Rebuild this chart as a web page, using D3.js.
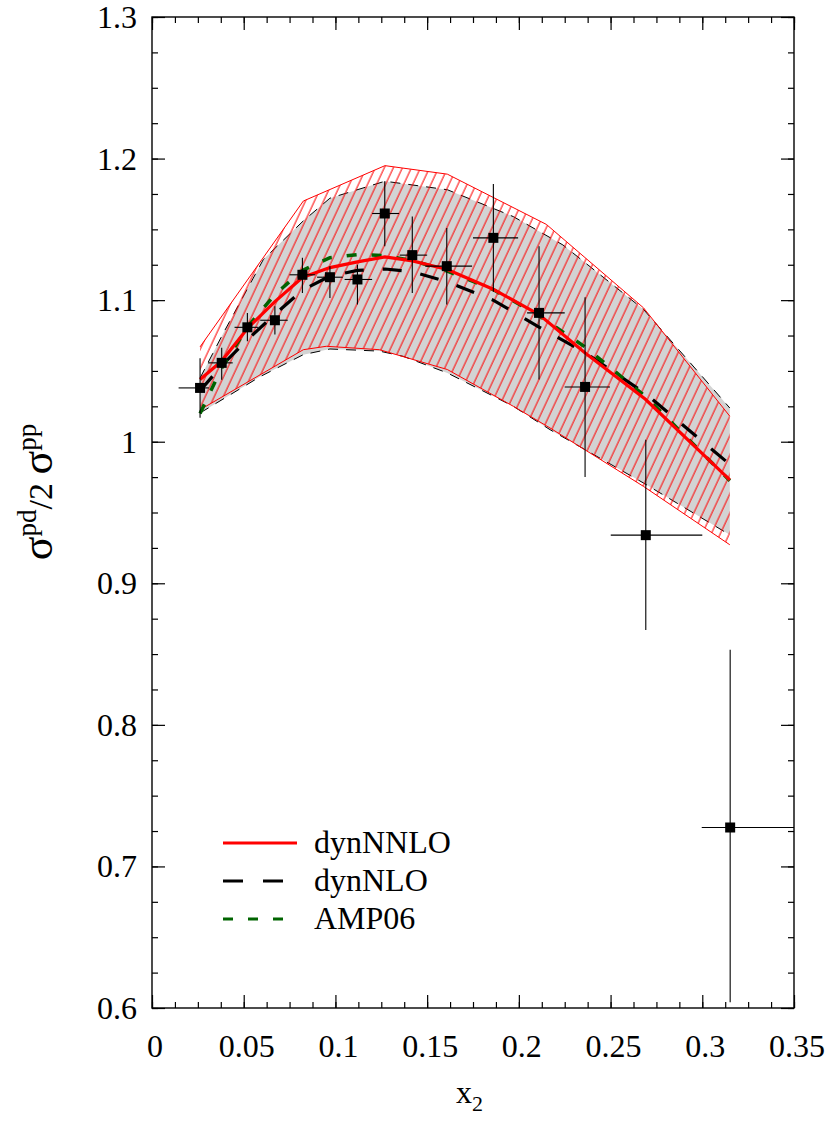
<!DOCTYPE html>
<html><head><meta charset="utf-8">
<script src="https://cdn.jsdelivr.net/npm/d3@7"></script>
<style>body{margin:0;background:#fff} text{font-family:"Liberation Serif","Times New Roman",serif;fill:#000}</style>
</head><body><svg id="c" width="830" height="1128"></svg>
<script>
const xTicks=[0,0.05,0.1,0.15,0.2,0.25,0.3,0.35];
const xTickLabels=["0","0.05","0.1","0.15","0.2","0.25","0.3","0.35"];
const yTicks=[0.6,0.7,0.8,0.9,1.0,1.1,1.2,1.3];
const yTickLabels=["0.6","0.7","0.8","0.9","1","1.1","1.2","1.3"];

// data points
const dataX =[0.0262,0.0380,0.0520,0.0670,0.0820,0.0970,0.1120,0.1269,0.1419,0.1607,0.1861,0.2110,0.2361,0.2692,0.3152];
const dataY =[1.038,1.0557,1.0808,1.0858,1.1179,1.1162,1.1146,1.1612,1.1318,1.124,1.144,1.091,1.0387,0.934,0.7275];
const dataXLo=[0.0145,0.0305,0.045,0.059,0.075,0.090,0.105,0.120,0.135,0.149,0.175,0.2045,0.225,0.2501,0.2997];
const dataXHi=[0.031,0.044,0.058,0.074,0.089,0.104,0.120,0.1347,0.150,0.1745,0.1996,0.225,0.2497,0.300,0.37];
const dataYLo=[1.017,1.0438,1.071,1.0757,1.105,1.1016,1.097,1.138,1.105,1.097,1.106,1.044,0.975,0.867,0.604];
const dataYHi=[1.059,1.0663,1.091,1.0957,1.130,1.124,1.125,1.184,1.159,1.151,1.182,1.138,1.102,1.0014,0.853];

// theory curves
const thX  =[0.0262,0.038,0.052,0.067,0.082,0.097,0.112,0.127,0.142,0.161,0.186,0.211,0.236,0.269,0.315];
const nnlo =[1.044,1.057,1.080,1.099,1.116,1.123,1.127,1.1306,1.1277,1.1216,1.1077,1.0898,1.0628,1.030,0.973];
const nlo  =[1.036,1.0537,1.072,1.090,1.107,1.117,1.121,1.122,1.120,1.113,1.100,1.081,1.063,1.034,0.984];
const amp06=[1.020,1.052,1.081,1.104,1.121,1.130,1.1322,1.1315,1.128,1.1205,1.1075,1.089,1.067,1.032,0.9725];

// uncertainty bands
const nnloBandUpX=[0.0262,0.0825,0.127,0.161,0.215,0.268,0.315];
const nnloBandUp =[1.067,1.170,1.195,1.189,1.1535,1.0945,1.018];
const nnloBandLoX=[0.0262,0.0825,0.095,0.124,0.161,0.197,0.217,0.268,0.315];
const nnloBandLo =[1.0226,1.065,1.0674,1.065,1.051,1.025,1.0097,0.9684,0.9272];
const nloBandUpX=[0.0262,0.039,0.0607,0.0825,0.097,0.127,0.161,0.197,0.224,0.268,0.315];
const nloBandUp =[1.045,1.077,1.1287,1.156,1.172,1.184,1.178,1.159,1.139,1.0934,1.0238];
const nloBandLoX=[0.0262,0.059,0.0825,0.097,0.124,0.137,0.161,0.197,0.217,0.268,0.315];
const nloBandLo =[1.0203,1.046,1.0615,1.0655,1.064,1.0603,1.0486,1.025,1.0085,0.9708,0.9342];

const legendLabels=["dynNNLO","dynNLO","AMP06"];

const L=152,R=794,T=17,B=1008;
const x=d3.scaleLinear().domain([0,0.35]).range([L,R]);
const y=d3.scaleLinear().domain([0.6,1.3]).range([B,T]);
const svg=d3.select("#c");
svg.append("rect").attr("width",830).attr("height",1128).attr("fill","#fff");
const defs=svg.append("defs");
defs.append("clipPath").attr("id","clip").append("rect").attr("x",L).attr("y",T).attr("width",R-L).attr("height",B-T);
const pat=defs.append("pattern").attr("id","hatch").attr("patternUnits","userSpaceOnUse")
  .attr("width",8.2).attr("height",20).attr("patternTransform","rotate(25)");
pat.append("line").attr("x1",1).attr("y1",0).attr("x2",1).attr("y2",20).attr("stroke","#ff0000").attr("stroke-width",1);

const g=svg.append("g").attr("clip-path","url(#clip)");
const zip=(xs,ys)=>xs.map((v,i)=>[v,ys[i]]);
const line=d3.line().x(d=>x(d[0])).y(d=>y(d[1]));

// gray NLO band
const nloPoly=zip(nloBandUpX,nloBandUp).concat(zip(nloBandLoX,nloBandLo).reverse());
g.append("path").attr("d",line(nloPoly)+"Z").attr("fill","#d3d3d3").attr("stroke","none");
[zip(nloBandUpX,nloBandUp),zip(nloBandLoX,nloBandLo)].forEach(p=>
  g.append("path").attr("d",line(p)).attr("fill","none").attr("stroke","#000").attr("stroke-width",1).attr("stroke-dasharray","10,8"));
// red hatched NNLO band
const nnloPoly=zip(nnloBandUpX,nnloBandUp).concat(zip(nnloBandLoX,nnloBandLo).reverse());
g.append("path").attr("d",line(nnloPoly)+"Z").attr("fill","url(#hatch)").attr("stroke","none");
[zip(nnloBandUpX,nnloBandUp),zip(nnloBandLoX,nnloBandLo)].forEach(p=>
  g.append("path").attr("d",line(p)).attr("fill","none").attr("stroke","#ff0000").attr("stroke-width",1));

// curves
g.append("path").attr("d",line(zip(thX,nlo))).attr("fill","none").attr("stroke","#000").attr("stroke-width",3.2).attr("stroke-dasharray","19,19");
g.append("path").attr("d",line(zip(thX,amp06))).attr("fill","none").attr("stroke","#006400").attr("stroke-width",3.5).attr("stroke-dasharray","10,15");
g.append("path").attr("d",line(zip(thX,nnlo))).attr("fill","none").attr("stroke","#ff0000").attr("stroke-width",3.2);

// data points
dataX.forEach((xv,i)=>{
  g.append("line").attr("x1",x(dataXLo[i])).attr("x2",x(dataXHi[i])).attr("y1",y(dataY[i])).attr("y2",y(dataY[i])).attr("stroke","#000").attr("stroke-width",1.1);
  g.append("line").attr("x1",x(xv)).attr("x2",x(xv)).attr("y1",y(dataYLo[i])).attr("y2",y(dataYHi[i])).attr("stroke","#000").attr("stroke-width",1.1);
  g.append("rect").attr("x",x(xv)-5).attr("y",y(dataY[i])-5).attr("width",10).attr("height",10).attr("fill","#000");
});

// axes (ticks inward on all sides)
const xMinor=d3.range(0,0.35001,0.0125), yMinor=d3.range(0.6,1.30001,0.025);
function axes(axisFn,scale,vals,size,tr){
  const a=axisFn(scale).tickValues(vals).tickSize(size).tickFormat("");
  const gg=svg.append("g").attr("transform",tr).call(a);
  gg.select(".domain").remove();
  gg.selectAll(".tick line").attr("stroke","#000").attr("stroke-width",1.2);
}
axes(d3.axisBottom,x,xMinor,-6,`translate(0,${B})`);
axes(d3.axisBottom,x,xTicks,-13,`translate(0,${B})`);
axes(d3.axisTop,x,xMinor,-6,`translate(0,${T})`);
axes(d3.axisTop,x,xTicks,-13,`translate(0,${T})`);
axes(d3.axisLeft,y,yMinor,-6,`translate(${L},0)`);
axes(d3.axisLeft,y,yTicks,-13,`translate(${L},0)`);
axes(d3.axisRight,y,yMinor,-6,`translate(${R},0)`);
axes(d3.axisRight,y,yTicks,-13,`translate(${R},0)`);
svg.append("rect").attr("x",L).attr("y",T).attr("width",R-L).attr("height",B-T).attr("fill","none").attr("stroke","#000").attr("stroke-width",1.4);

// tick labels
xTicks.forEach((v,i)=>svg.append("text").attr("x",x(v)+3).attr("y",1057).attr("text-anchor","middle").attr("font-size",32).text(xTickLabels[i]));
yTicks.forEach((v,i)=>svg.append("text").attr("x",137).attr("y",y(v)+11).attr("text-anchor","end").attr("font-size",32).text(yTickLabels[i]));

// axis titles
const xt=svg.append("text").attr("x",456).attr("y",1103).attr("font-size",32);
xt.append("tspan").text("x");
xt.append("tspan").attr("font-size",22).attr("dy",8).text("2");
const yt=svg.append("text").attr("transform","translate(52,492) rotate(-90)").attr("text-anchor","middle").attr("font-size",34);
yt.append("tspan").attr("font-size",44).text("σ");
yt.append("tspan").attr("font-size",27).attr("dy",-16).text("pd");
yt.append("tspan").attr("font-size",34).attr("dy",16).text("/2 ");
yt.append("tspan").attr("font-size",44).text("σ");
yt.append("tspan").attr("font-size",27).attr("dy",-16).text("pp");

// legend
const legStyles=[{c:"#ff0000",d:null,e:297},{c:"#000",d:"20,20",e:283},{c:"#006400",d:"10,15",e:283}];
const legY=[843,881,919];
legStyles.forEach((s,i)=>{
  const l=svg.append("line").attr("x1",223).attr("x2",s.e).attr("y1",legY[i]).attr("y2",legY[i]).attr("stroke",s.c).attr("stroke-width",3.2);
  if(s.d) l.attr("stroke-dasharray",s.d);
  svg.append("text").attr("x",314).attr("y",legY[i]+10).attr("font-size",32).text(legendLabels[i]);
});
</script></body></html>
